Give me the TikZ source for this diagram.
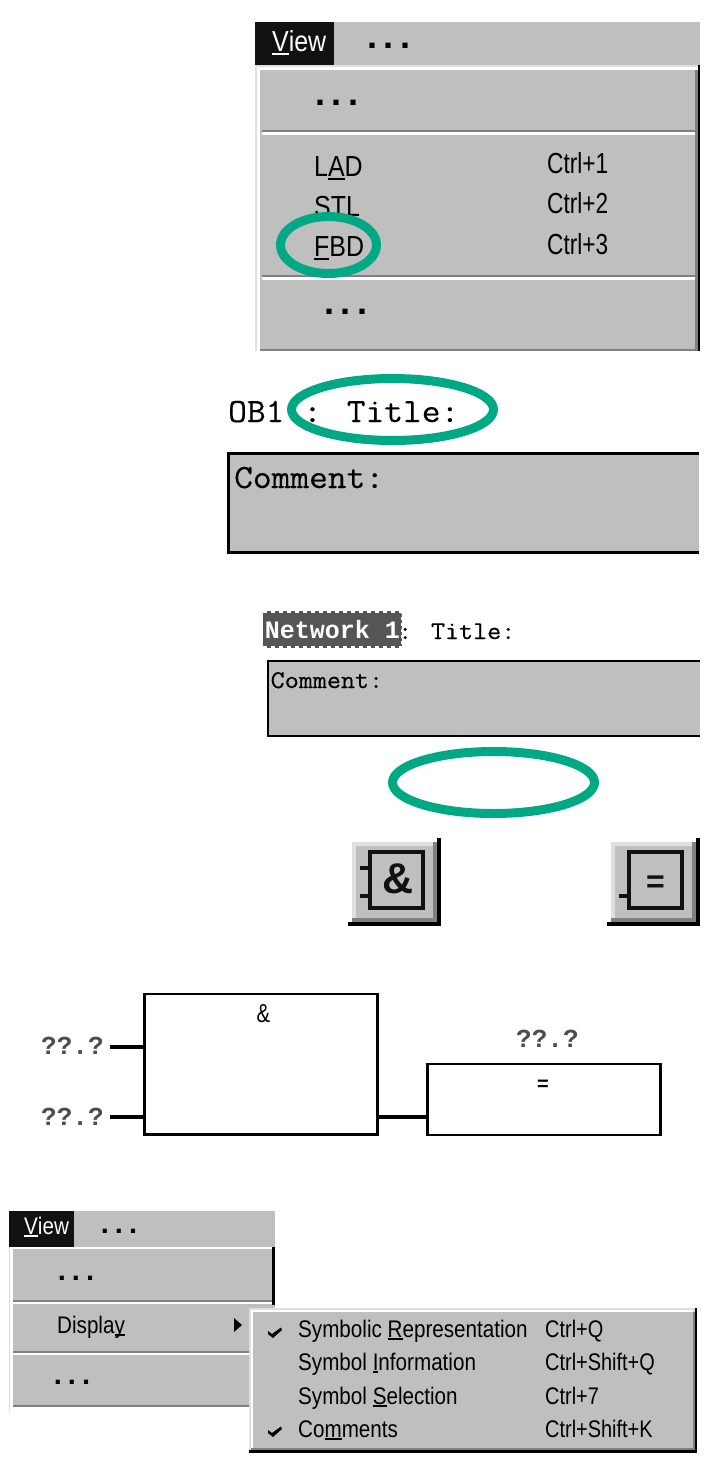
\documentclass[tikz,border=0pt]{standalone}
\usepackage{fontspec}
\usepackage{xcolor}
\setmainfont{Liberation Sans}
\newfontfamily\menufont[FakeStretch=0.86]{Liberation Sans}
\newfontfamily\ctrlfont[FakeStretch=0.78]{Liberation Sans}
\newfontfamily\shortcutfont[FakeStretch=0.83]{Liberation Sans}
\newfontfamily\slabfont[FakeStretch=1.07,FakeBold=0.4]{Latin Modern Mono}
\newfontfamily\boldmono{Liberation Mono}
\definecolor{uigray}{HTML}{BFBFBF}
\definecolor{uilight}{HTML}{DFDFDF}
\definecolor{uidark}{HTML}{808080}
\definecolor{uiblack}{HTML}{111111}
\definecolor{ringgreen}{HTML}{00A884}
\definecolor{netgray}{HTML}{555555}
\definecolor{addrgray}{HTML}{4D4D4D}
\newcommand{\keyletter}[1]{{\setbox0\hbox{#1}\rlap{\rule[-.14em]{\wd0}{.08em}}\box0}}
\newcommand{\uidots}[1]{.\hspace{#1}.\hspace{#1}.}

\begin{document}
\begin{tikzpicture}[x=1pt,y=-1pt]
    \tikzstyle{big} = [anchor=base west,inner sep=0pt,font=\menufont\fontsize{29}{30}\selectfont]
    \tikzstyle{bigctrl} = [anchor=base west,inner sep=0pt,font=\ctrlfont\fontsize{29}{30}\selectfont]
    \tikzstyle{small} = [anchor=base west,inner sep=0pt,font=\menufont\fontsize{24}{26}\selectfont]
    \tikzstyle{smallctrl} = [anchor=base west,inner sep=0pt,font=\shortcutfont\fontsize{24}{26}\selectfont]
    \tikzstyle{dotrow} = [anchor=base,inner sep=0pt,font=\bfseries\fontsize{36}{36}\selectfont]
    \tikzstyle{smalldots} = [anchor=base,inner sep=0pt,font=\bfseries\fontsize{29}{30}\selectfont]
    \tikzstyle{slab} = [anchor=base west,inner sep=0pt,font=\slabfont\fontsize{34}{35}\selectfont]
    \tikzstyle{slabsmall} = [anchor=base west,inner sep=0pt,font=\slabfont\fontsize{25.5}{26}\selectfont]
    \tikzstyle{addr} = [anchor=base west,inner sep=0pt,text=addrgray,font=\boldmono\bfseries\fontsize{26}{26}\selectfont]
    \tikzstyle{ring} = [draw=ringgreen,line width=9pt]
    \tikzstyle{fbd} = [draw=black,line width=2.6pt,fill=white,inner sep=0pt]
    \tikzstyle{wire} = [draw=black,line width=4pt]
    \useasboundingbox (0,0) rectangle (719,1478);

    % view menu, top
    \fill[uigray] (255,22) rectangle (700,65);
    \fill[uiblack] (255,22) rectangle (334,65);
    \node [big,text=white] (view1) at (272,51) {\keyletter{V}iew};
    \node [dotrow] (bardots1) at (389,48) {\uidots{7pt}};
    \fill[uilight] (255,65) rectangle (698,351);
    \fill[white] (257,67) rectangle (698,351);
    \fill[uigray] (260,70) rectangle (695,349);
    \fill[uidark] (695,70) rectangle (698,351);
    \fill[uidark] (260,349) rectangle (698,351);
    \fill[black] (698,65) rectangle (700,351);
    \foreach \y in {130,275} {
      \fill[uidark] (262,\y) rectangle (695,\y+2);
      \fill[white] (262,\y+2) rectangle (695,\y+4.5);
    }
    \node [dotrow] (topdots) at (337,105.5) {\uidots{7pt}};
    \node [dotrow] (lowdots) at (346,314.5) {\uidots{7pt}};
    \node [big] (lad) at (314,176) {L\keyletter{A}D};
    \node [big] (stl) at (314,216) {STL};
    \node [big] (fbdtext) at (314,256) {\keyletter{F}BD};
    \node [bigctrl] (ctrl1) at (547,173) {Ctrl+1};
    \node [bigctrl] (ctrl2) at (547,213) {Ctrl+2};
    \node [bigctrl] (ctrl3) at (547,254) {Ctrl+3};
    \draw[ring] (328.5,245) ellipse (48 and 28.5);

    % block title and comment
    \node [slab] (obtitle) at (228,422) {OB1 : Title:};
    \draw[ring] (392.5,409.5) ellipse (101 and 31);
    \fill[uigray] (228,453) rectangle (699,553);
    \draw[black,line width=3pt] (699,453.5) -- (228.5,453.5) -- (228.5,552.5) -- (699,552.5);
    \node [slab] (obcomment) at (234,488) {Comment:};

    % network title and comment
    \node [fill=netgray,text=white,inner sep=0pt,minimum width=139,minimum height=37,font=\boldmono\bfseries\fontsize{25}{26}\selectfont] (net1) at (332.5,629.5) {Network 1};
    \draw[white,line width=5pt,dash pattern=on 4pt off 4pt] (net1.north west) -- (net1.north east);
    \draw[white,line width=5pt,dash pattern=on 4pt off 4pt] (net1.south west) -- (net1.south east);
    \draw[white,line width=3pt,dash pattern=on 3pt off 3pt] (net1.north east) -- (net1.south east);
    \node [slabsmall] (nettitle) at (398,639) {: Title:};
    \fill[uigray] (268,661) rectangle (700,736);
    \draw[black,line width=2pt] (700,661) -- (268,661) -- (268,736) -- (700,736);
    \node [slabsmall] (netcomment) at (270.5,688) {Comment:};
    \draw[ring] (493.5,782.5) ellipse (101 and 31);

    % toolbar buttons
    \foreach \bx in {0,259} {
      \fill[black] (348+\bx,922) rectangle (441+\bx,926);
      \fill[black] (437+\bx,838) rectangle (441+\bx,926);
      \fill[uidark] (352+\bx,842) rectangle (437+\bx,922);
      \fill[uilight] (352+\bx,842) rectangle (433+\bx,918);
      \fill[uigray] (356+\bx,846) rectangle (433+\bx,918);
      \draw[uiblack,line width=3.6pt] (370+\bx,852) rectangle (423+\bx,908);
      \draw[uiblack,line width=3.6pt] (360+\bx,896) -- (368+\bx,896);
    }
    \draw[uiblack,line width=3.6pt] (360,868) -- (368,868);
    \node [anchor=base,inner sep=0pt,text=uiblack,font=\bfseries\fontsize{43}{44}\selectfont] (andicon) at (398,893) {\&};
    \node [anchor=base,inner sep=0pt,text=uiblack,font=\bfseries\fontsize{32}{32}\selectfont] (assignicon) at (655.5,892) {=};

    % function block diagram
    \node [fbd,minimum width=233,minimum height=140.5] (andbox) at (261,1064.25) {};
    \node [fbd,minimum width=233.5,minimum height=71] (assignbox) at (544,1099.5) {};
    \coordinate (in1) at (110,1046.7);
    \coordinate (in2) at (110,1117);
    \coordinate (q1) at (378,1117);
    \draw[wire] (in1) -- (in1 -| andbox.west);
    \draw[wire] (in2) -- (in2 -| andbox.west);
    \draw[wire] (q1) -- (q1 -| assignbox.west);
    \node [addr] (addr1) at (41,1054) {??.?};
    \node [addr] (addr2) at (41,1125) {??.?};
    \node [addr] (addr3) at (516,1047) {??.?};
    \node [anchor=base,inner sep=0pt,font=\ctrlfont\fontsize{26}{26}\selectfont] (andlabel) at (263.5,1022) {\&};
    \node [anchor=base,inner sep=0pt,font=\bfseries\fontsize{20}{20}\selectfont] (assignlabel) at (543,1090.5) {=};

    % view menu, bottom
    \fill[uigray] (9,1211) rectangle (275,1247);
    \fill[uiblack] (9,1211) rectangle (74,1247);
    \node [small,text=white] (view2) at (24,1234) {\keyletter{V}iew};
    \node [smalldots] (bardots2) at (119,1233) {\uidots{6pt}};
    \fill[uilight] (9,1247) rectangle (272,1411);
    \fill[white] (10,1247) rectangle (272,1411);
    \fill[uigray] (13,1249) rectangle (272,1409);
    \fill[uigray] (272,1305) rectangle (275,1330);
    \fill[black] (272,1247) rectangle (275,1305);
    \foreach \y in {1300,1351,1405} {
      \fill[uidark] (13,\y) rectangle (272,\y+2);
      \fill[white] (13,\y+2) rectangle (272,\y+4);
    }
    \node [smalldots] (dots2) at (76,1280) {\uidots{6pt}};
    \node [small] (display) at (57,1333) {Displa\keyletter{y}};
    \fill[black] (234,1318) -- (242,1325) -- (234,1332) -- cycle;
    \node [smalldots] (dots3) at (72,1384) {\uidots{6pt}};

    % display submenu
    \fill[uilight] (249,1308) rectangle (695,1450);
    \fill[white] (251,1310) rectangle (693,1448);
    \fill[uigray] (253,1312) rectangle (693,1448);
    \fill[uidark] (693,1312) rectangle (695,1450);
    \fill[uidark] (251,1448) rectangle (695,1450);
    \fill[black] (695,1308) rectangle (697,1453);
    \fill[black] (249,1450) rectangle (697,1453);
    \foreach \y in {0,99} {
      \fill[black] (268,1331+\y) -- (272,1334+\y) -- (281,1327.5+\y) -- (282,1330+\y) -- (273,1338+\y) -- (268,1334+\y) -- cycle;
    }
    \node [small] (symrep) at (298,1337) {Symbolic \keyletter{R}epresentation};
    \node [small] (syminfo) at (298,1370) {Symbol \keyletter{I}nformation};
    \node [small] (symsel) at (298,1404) {Symbol \keyletter{S}election};
    \node [small] (comments) at (298,1437) {Co\keyletter{m}ments};
    \node [smallctrl] (ctrlq) at (545,1337) {Ctrl+Q};
    \node [smallctrl] (ctrlsq) at (545,1370) {Ctrl+Shift+Q};
    \node [smallctrl] (ctrlseven) at (545,1404) {Ctrl+7};
    \node [smallctrl] (ctrlsk) at (545,1437) {Ctrl+Shift+K};
\end{tikzpicture}
\end{document}
